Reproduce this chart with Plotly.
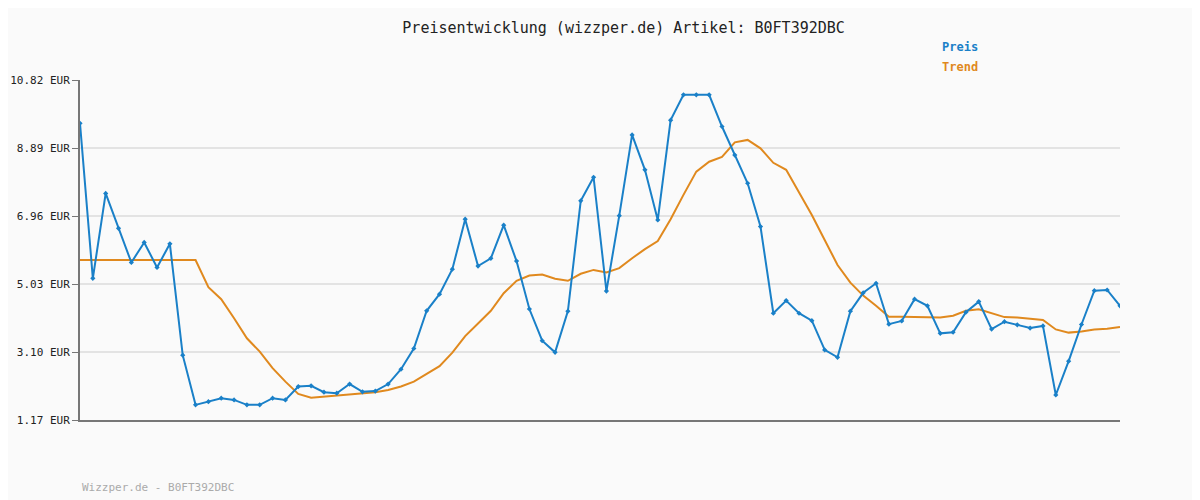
import plotly.graph_objects as go

preis = [9.59, 5.19, 7.60, 6.61, 5.64, 6.21, 5.50, 6.17, 3.01, 1.60,
         1.69, 1.79, 1.74, 1.60, 1.60, 1.79, 1.74, 2.12, 2.14, 1.96,
         1.93, 2.19, 1.97, 1.99, 2.19, 2.61, 3.20, 4.27, 4.74, 5.45,
         6.87, 5.54, 5.76, 6.70, 5.68, 4.32, 3.42, 3.09, 4.26, 7.39,
         8.06, 4.83, 6.97, 9.26, 8.27, 6.85, 9.68, 10.40, 10.40, 10.40,
         9.50, 8.69, 7.89, 6.66, 4.20, 4.56, 4.20, 3.99, 3.16, 2.95,
         4.26, 4.78, 5.05, 3.89, 3.98, 4.60, 4.41, 3.63, 3.66, 4.23,
         4.53, 3.75, 3.96, 3.87, 3.78, 3.84, 1.88, 2.84, 3.88, 4.84,
         4.86, 4.41]
trend = [5.71, 5.71, 5.71, 5.71, 5.71, 5.71, 5.71, 5.71, 5.71, 5.71,
         4.94, 4.60, 4.06, 3.49, 3.11, 2.64, 2.26, 1.91, 1.80, 1.83,
         1.86, 1.89, 1.92, 1.96, 2.02, 2.12, 2.26, 2.48, 2.70, 3.08,
         3.55, 3.91, 4.27, 4.77, 5.12, 5.27, 5.30, 5.18, 5.12, 5.32,
         5.43, 5.36, 5.48, 5.76, 6.02, 6.25, 6.87, 7.56, 8.22, 8.50,
         8.64, 9.05, 9.12, 8.88, 8.47, 8.27, 7.65, 6.99, 6.28, 5.57,
         5.07, 4.70, 4.41, 4.10, 4.10, 4.10, 4.10, 4.08, 4.13, 4.27,
         4.31, 4.20, 4.09, 4.08, 4.05, 4.01, 3.74, 3.65, 3.68, 3.74,
         3.76, 3.81]
y_ticks = [1.17, 3.10, 5.03, 6.96, 8.89, 10.82]
y_labels = [f"{v:.2f} EUR" for v in y_ticks]

BLUE = "#1a80c8"
ORANGE = "#e0891e"
FONT = "DejaVu Sans Mono"

x = list(range(len(preis)))

fig = go.Figure()
fig.add_trace(go.Scatter(x=x, y=trend, mode="lines", name="Trend",
                         line=dict(color=ORANGE, width=2)))
fig.add_trace(go.Scatter(x=x, y=preis, mode="lines+markers", name="Preis",
                         line=dict(color=BLUE, width=2),
                         marker=dict(symbol="diamond", size=4, color=BLUE)))

# page has an 8px body margin, so shift margins to compensate
fig.update_layout(
    width=1200, height=500,
    margin=dict(l=72, r=88, t=72, b=88, autoexpand=False),
    paper_bgcolor="#fafafa", plot_bgcolor="#fafafa",
    showlegend=False,
    font=dict(family=FONT, size=12, color="#333"),
    title=dict(text="Preisentwicklung (wizzper.de) Artikel: B0FT392DBC",
               x=0.513, xanchor="center", y=0.96, yanchor="middle",
               font=dict(family=FONT, size=15, color="#222")),
    xaxis=dict(range=[0, len(preis) - 1], showticklabels=False, showgrid=False,
               zeroline=False, showline=True, linecolor="#777", linewidth=2),
    yaxis=dict(range=[1.17, 10.82], tickvals=y_ticks, ticktext=y_labels,
               showgrid=True, gridcolor="#e3e3e3", gridwidth=2, zeroline=False,
               showline=True, linecolor="#777", linewidth=2, automargin=False,
               ticks="outside", ticklen=6, tickcolor="#777",
               tickfont=dict(family=FONT, size=11, color="#222")),
)

fig.add_annotation(x=940, y=47, text="<b>Preis</b>",
                   showarrow=False, xanchor="left", font=dict(color=BLUE, size=12))
fig.add_annotation(x=940, y=67, text="<b>Trend</b>",
                   showarrow=False, xanchor="left", font=dict(color=ORANGE, size=12))
fig.add_annotation(x=80, y=487, text="Wizzper.de - B0FT392DBC",
                   showarrow=False, xanchor="left", font=dict(color="#aaa", size=11))

# convert pixel positions for annotations to paper coords
for a in fig.layout.annotations:
    a.xref = "paper"
    a.yref = "paper"
    a.yanchor = "middle"
    a.x = (a.x - 80) / 1040
    a.y = (420 - a.y) / 340

fig.write_html("out.html")
